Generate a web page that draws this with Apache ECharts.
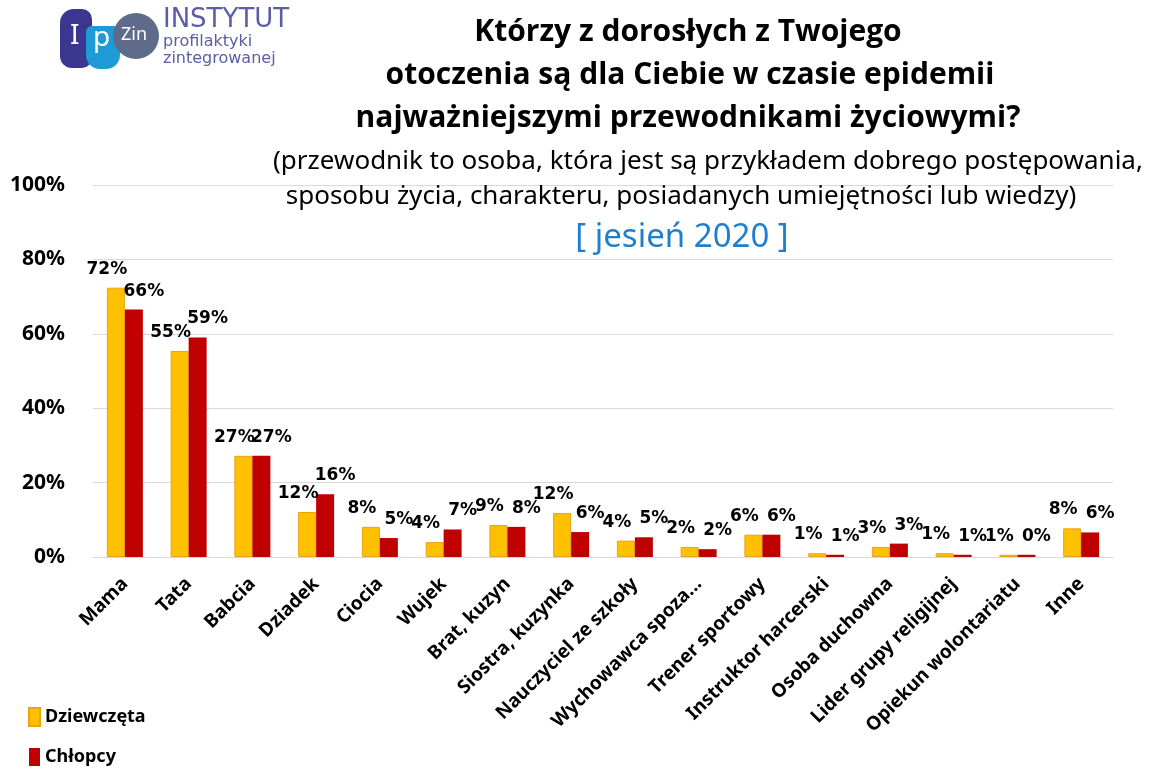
<!DOCTYPE html>
<html>
<head>
<meta charset="utf-8">
<script src="https://cdn.jsdelivr.net/npm/echarts@6/dist/echarts.min.js"></script>
<style>
  html, body { margin: 0; padding: 0; background: #fff; }
  #main { width: 1149px; height: 769px; }
</style>
</head>
<body>
<div id="main"></div>
<script>
// dane
var categories = ['Mama', 'Tata', 'Babcia', 'Dziadek', 'Ciocia', 'Wujek', 'Brat, kuzyn',
  'Siostra, kuzynka', 'Nauczyciel ze szkoły', 'Wychowawca spoza...', 'Trener sportowy',
  'Instruktor harcerski', 'Osoba duchowna', 'Lider grupy religijnej', 'Opiekun wolontariatu', 'Inne'];
var girls = [72.4, 55.4, 27.2, 12.1, 8.1, 4.0, 8.6, 11.8, 4.4, 2.7, 6.0, 1.0, 2.7, 1.0, 0.6, 7.7];
var boys = [66.5, 59.0, 27.2, 16.9, 5.1, 7.4, 8.1, 6.7, 5.3, 2.1, 6.0, 0.6, 3.6, 0.6, 0.6, 6.6];
var girlsLabels = ['72%', '55%', '27%', '12%', '8%', '4%', '9%', '12%', '4%', '2%', '6%', '1%', '3%', '1%', '1%', '8%'];
var boysLabels = ['66%', '59%', '27%', '16%', '5%', '7%', '8%', '6%', '5%', '2%', '6%', '1%', '3%', '1%', '0%', '6%'];
var yTicks = [0, 20, 40, 60, 80, 100];

var myChart = echarts.init(document.getElementById('main'));

var labelFont = 'DejaVu Sans';
var titleStyle = { fontFamily: 'Open Sans', fontWeight: 'bold', fontSize: 30, color: '#000' };
var subStyle = { fontFamily: 'Noto Sans', fontWeight: 'normal', fontSize: 26, color: '#000' };

var option = {
  backgroundColor: '#fff',
  animation: false,
  title: [
    { text: 'Którzy z dorosłych z Twojego', left: 688, top: 17, padding: 0, textAlign: 'center', textStyle: titleStyle },
    { text: 'otoczenia są dla Ciebie w czasie epidemii', left: 690, top: 60, padding: 0, textAlign: 'center', textStyle: titleStyle },
    { text: 'najważniejszymi przewodnikami życiowymi?', left: 688, top: 103, padding: 0, textAlign: 'center', textStyle: titleStyle },
    { text: '(przewodnik to osoba, która jest są przykładem dobrego postępowania,', left: 708, top: 149, padding: 0, textAlign: 'center', textStyle: subStyle },
    { text: 'sposobu życia, charakteru, posiadanych umiejętności lub wiedzy)', left: 681, top: 184, padding: 0, textAlign: 'center', textStyle: subStyle },
    {
      text: '[ jesień 2020 ]',
      left: 682, top: 221, padding: 0, textAlign: 'center',
      textStyle: { fontFamily: 'Noto Sans', fontWeight: 'normal', fontSize: 33, color: '#1f7fcf' }
    }
  ],
  graphic: [
    { type: 'rect', shape: { x: 60, y: 9, width: 32, height: 59, r: [14, 10, 10, 12] }, style: { fill: '#3b3790' } },
    { type: 'rect', shape: { x: 86, y: 26, width: 34, height: 43, r: [6, 6, 14, 14] }, style: { fill: '#1e9bd7' } },
    { type: 'circle', shape: { cx: 136, cy: 36, r: 23 }, style: { fill: '#5e6b8b' } },
    { type: 'text', left: 70, top: 22, style: { text: 'I', fill: '#fff', font: '28px Noto Sans' } },
    { type: 'text', left: 93, top: 24, style: { text: 'p', fill: '#fff', font: '28px Noto Sans' } },
    { type: 'text', left: 121, top: 26, style: { text: 'Zin', fill: '#fff', font: '18px Noto Sans' } },
    { type: 'text', left: 163, top: 7, style: { text: 'INSTYTUT', fill: '#5b5ea6', font: '26px DejaVu Sans' } },
    { type: 'text', left: 163, top: 34, style: { text: 'profilaktyki', fill: '#5b5ea6', font: '16px DejaVu Sans' } },
    { type: 'text', left: 163, top: 51, style: { text: 'zintegrowanej', fill: '#5b5ea6', font: '16px DejaVu Sans' } }
  ],
  legend: {
    orient: 'vertical',
    left: 28,
    top: 707,
    padding: 0,
    itemWidth: 11,
    itemHeight: 18,
    itemGap: 21,
    icon: 'rect',
    textStyle: { fontFamily: 'Noto Sans', fontWeight: 'bold', fontSize: 18, color: '#000' },
    data: ['Dziewczęta', 'Chłopcy']
  },
  grid: { left: 93, right: 36, top: 185, bottom: 212, containLabel: false },
  xAxis: {
    type: 'category',
    data: categories,
    axisLine: { show: true, lineStyle: { color: '#d9d9d9', width: 1 } },
    axisTick: { show: false },
    axisLabel: {
      interval: 0,
      rotate: 45,
      margin: 24,
      fontFamily: 'Noto Sans',
      fontWeight: 'bold',
      fontSize: 19,
      color: '#000'
    }
  },
  yAxis: {
    type: 'value',
    min: yTicks[0],
    max: yTicks[yTicks.length - 1],
    interval: yTicks[1] - yTicks[0],
    axisLine: { show: false },
    axisTick: { show: false },
    splitLine: { lineStyle: { color: '#d9d9d9', width: 1 } },
    axisLabel: {
      formatter: '{value}%',
      margin: 28,
      fontFamily: 'Noto Sans',
      fontWeight: 'bold',
      fontSize: 21,
      color: '#000'
    }
  },
  series: [
    {
      name: 'Dziewczęta',
      type: 'bar',
      data: girls,
      barWidth: 18,
      barGap: '0%',
      itemStyle: { color: '#ffc000', borderColor: '#e8a317', borderWidth: 1 },
      label: {
        show: true,
        position: 'top',
        distance: 10,
        offset: [-9, 0],
        formatter: function (p) { return girlsLabels[p.dataIndex]; },
        fontFamily: labelFont,
        fontWeight: 'bold',
        fontSize: 17,
        color: '#000'
      }
    },
    {
      name: 'Chłopcy',
      type: 'bar',
      data: boys,
      barWidth: 18,
      itemStyle: { color: '#c00000' },
      label: {
        show: true,
        position: 'top',
        distance: 10,
        offset: [10, 0],
        formatter: function (p) { return boysLabels[p.dataIndex]; },
        fontFamily: labelFont,
        fontWeight: 'bold',
        fontSize: 17,
        color: '#000'
      }
    }
  ]
};

option && myChart.setOption(option);
</script>
</body>
</html>
